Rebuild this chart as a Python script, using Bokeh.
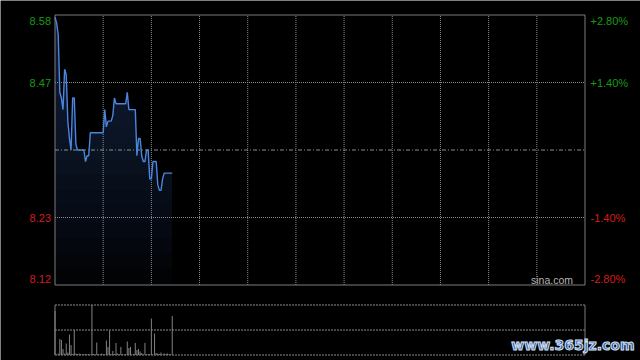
import numpy as np
from bokeh.plotting import figure
from bokeh.models import Range1d
from bokeh.core.properties import value
from bokeh.embed import file_html
from bokeh.resources import INLINE

# Intraday session: 330 trading minutes (09:30-12:00, 13:00-16:00)
session_minutes = 330
prev_close = 8.35
band_pct = [2.80, 1.40, -1.40, -2.80]
band_text = ["+2.80%", "+1.40%", "-1.40%", "-2.80%"]
price_text = ["8.58", "8.47", "8.23", "8.12"]
half_hours = list(range(30, 330, 30))

# Minute-by-minute last price
price = [
    8.58, 8.57, 8.55, 8.45, 8.44, 8.42, 8.49, 8.48, 8.40, 8.37,
    8.35, 8.44, 8.44, 8.36, 8.35, 8.35, 8.35, 8.35, 8.35, 8.33,
    8.34, 8.34, 8.38, 8.38, 8.38, 8.38, 8.38, 8.38, 8.38, 8.38,
    8.38, 8.42, 8.39, 8.40, 8.40, 8.40, 8.41, 8.44, 8.43, 8.43,
    8.43, 8.43, 8.43, 8.43, 8.43, 8.45, 8.42, 8.42, 8.42, 8.42,
    8.42, 8.34, 8.37, 8.37, 8.34, 8.33, 8.33, 8.35, 8.35, 8.30,
    8.30, 8.33, 8.33, 8.33, 8.29, 8.28, 8.28, 8.30, 8.31, 8.31,
    8.31, 8.31, 8.31, 8.31,
]

# Minute volume (relative units, 100 = panel top)
volume = [
    88, 1, 3, 32, 30, 12, 3, 23, 5, 41,
    20, 2, 50, 3, 2, 3, 2, 1, 2, 2,
    1, 2, 1, 100, 2, 1, 25, 2, 1, 3,
    2, 1, 29, 16, 49, 2, 8, 2, 24, 3,
    1, 16, 2, 1, 2, 27, 14, 16, 1, 2,
    24, 10, 12, 7, 4, 1, 24, 1, 2, 2,
    73, 1, 43, 4, 3, 2, 5, 1, 3, 2,
    3, 2, 1, 78,
]
vol_levels = [0, 50, 100]

minutes = np.arange(len(price))
price_arr = np.array(price)
hi = prev_close * (1 + band_pct[0] / 100)
lo = prev_close * (1 + band_pct[-1] / 100)

# Page geometry (pixels): price box and volume box share one canvas
W, H = 640, 360
box_l, box_w = 54.5, 530.0
box_t, box_h = 14.5, 270.0
vol_t, vol_h = 304.5, 50.0

min_per_px = session_minutes / box_w
x_range = Range1d(-box_l * min_per_px, (W - box_l) * min_per_px)
pr_per_px = (hi - lo) / box_h
y_range = Range1d(hi - (H - box_t) * pr_per_px, hi + box_t * pr_per_px)
vol_per_px = vol_levels[-1] / vol_h
vol_range = Range1d(-(H - vol_t - vol_h) * vol_per_px, (vol_t + vol_h) * vol_per_px)

BG = "#000000"
GRID = "#8c8c8c"
FRAME = "#7c7c7c"
UP = "#179a17"
DOWN = "#d41c1c"
LINE = "#4a86e0"
FONT = "Liberation Sans"

p = figure(width=W, height=H, x_range=x_range, y_range=y_range,
           x_axis_type=None, y_axis_type=None,
           output_backend="svg", toolbar_location=None,
           min_border=0, background_fill_color=BG, border_fill_color=BG,
           outline_line_color=None)
p.grid.visible = False
p.extra_y_ranges = {"vol": vol_range}

# Dark blue area under the price line, brightening with height
levels = np.linspace(lo, price_arr.max(), 18)
for lv in levels:
    p.varea(x=minutes, y1=np.full(len(minutes), lv),
            y2=np.maximum(price_arr, lv),
            fill_color="#22385e", fill_alpha=0.055)

# Price grid: half-hour verticals, quarter-band horizontals, dash-dot close
p.segment(x0=half_hours, y0=[lo] * len(half_hours),
          x1=half_hours, y1=[hi] * len(half_hours),
          line_color=GRID, line_dash="1 1", line_width=1)
quarter = [prev_close * (1 + b / 100) for b in band_pct[1:3]]
p.segment(x0=[0, 0], y0=quarter, x1=[session_minutes] * 2, y1=quarter,
          line_color=GRID, line_dash="1 1", line_width=1)
p.segment(x0=[0], y0=[prev_close], x1=[session_minutes], y1=[prev_close],
          line_color=GRID, line_dash="4 2 1 2", line_width=1)

p.line(minutes, price_arr, line_color=LINE, line_width=1.4)

p.quad(left=[0], right=[session_minutes], bottom=[lo], top=[hi],
       fill_color=None, line_color=FRAME, line_width=1)

# Price and percent labels on both sides
levels_lbl = [prev_close * (1 + b / 100) for b in band_pct]
colors = [UP if b > 0 else DOWN for b in band_pct]
nudges = [6, 0, 0, -6]
for lvl, pt, bt, col, nd in zip(levels_lbl, price_text, band_text, colors, nudges):
    p.text(x=[0], y=[lvl], text=[pt], text_align="right", text_baseline="middle",
           x_offset=-4, y_offset=nd, text_color=col,
           text_font=value(FONT), text_font_size="11px")
    p.text(x=[session_minutes], y=[lvl], text=[bt], text_align="left",
           text_baseline="middle", x_offset=5.5, y_offset=nd, text_color=col,
           text_font=value(FONT), text_font_size="11px")

p.text(x=[session_minutes], y=[lo], text=["sina.com"], text_align="right",
       text_baseline="middle", x_offset=-12, y_offset=-5, text_color="#b4b4b4",
       text_font=value(FONT), text_font_size="10.5px")

# Volume panel
p.segment(x0=[0] * 3, y0=vol_levels, x1=[session_minutes] * 3, y1=vol_levels,
          line_color=GRID, line_dash="2 1", line_width=1, y_range_name="vol")
p.segment(x0=[0, session_minutes], y0=[0, 0],
          x1=[0, session_minutes], y1=[vol_levels[-1]] * 2,
          line_color=FRAME, line_width=1, y_range_name="vol")
p.segment(x0=minutes, y0=np.zeros(len(volume)), x1=minutes, y1=volume,
          line_color="#828282", line_width=1, y_range_name="vol")

p.text(x=[session_minutes], y=[21], text=["www.365jz.com"], text_align="right",
       text_baseline="middle", x_offset=49.5, text_color="#2b5ba8",
       text_outline_color="#d8e4f4",
       text_font=value("DejaVu Sans"), text_font_style="bold",
       text_font_size="14px", y_range_name="vol")

open("out.html", "w").write(file_html(p, INLINE))
